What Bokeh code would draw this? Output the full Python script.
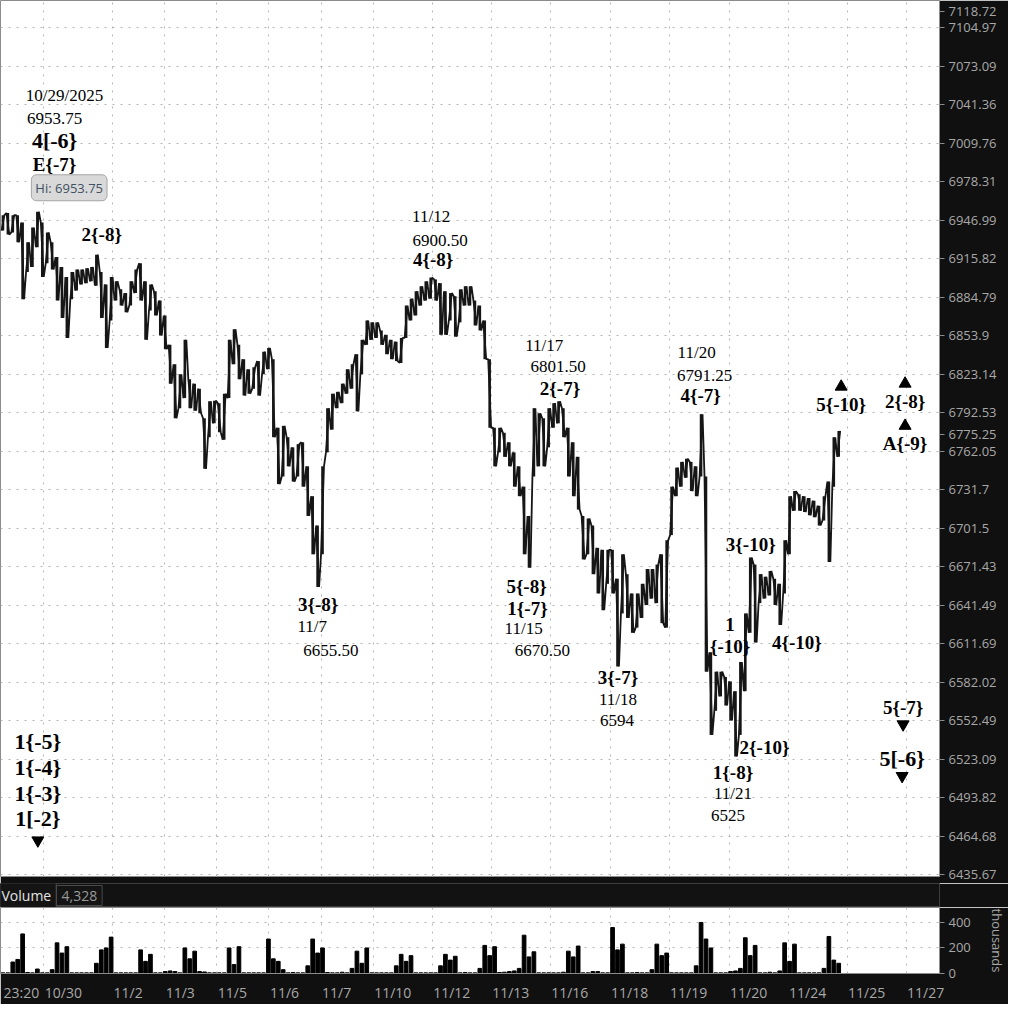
from bokeh.plotting import figure
from bokeh.models import Range1d, FixedTicker, Label, ColumnDataSource
from bokeh.layouts import column
from bokeh.embed import file_html
from bokeh.resources import INLINE
from bokeh.core.properties import value

# ---------------- data ----------------
price_high = [6951, 6952.75, 6951, 6951, 6945, 6929, 6941, 6953.75, 6945, 6937,
 6929, 6917, 6909, 6901, 6905, 6907, 6907, 6908, 6909, 6919,
 6905, 6895, 6901, 6897.5, 6891, 6888, 6897.5, 6907, 6912, 6897.5,
 6895, 6889.5, 6882, 6870, 6846.5, 6831, 6823, 6850.5, 6819, 6815.5,
 6811.5, 6788, 6801.5, 6802, 6800, 6807.5, 6850.5, 6859, 6846.5, 6835,
 6827, 6828.5, 6833.5, 6841, 6844, 6835, 6780.5, 6782, 6773, 6765,
 6767.5, 6769, 6750, 6726.5, 6703.5, 6750, 6796, 6807.5, 6809, 6815.5,
 6827, 6831, 6839, 6850.5, 6866, 6864.5, 6864.5, 6858, 6854.5, 6850.5,
 6849, 6852, 6878, 6883.5, 6889.5, 6893.5, 6897.5, 6900.5, 6899, 6896,
 6889.5, 6888, 6885.5, 6891, 6893.5, 6893.5, 6882, 6878, 6866, 6835,
 6780.5, 6780.5, 6776.5, 6769, 6761, 6750, 6734, 6711, 6796, 6792,
 6788, 6796, 6800, 6801.5, 6796, 6780.5, 6769, 6757.5, 6711, 6709,
 6703.5, 6686, 6684.5, 6684.5, 6684.5, 6662, 6681, 6665.5, 6650.5, 6650.5,
 6658, 6669.5, 6669.5, 6673, 6681, 6692, 6734, 6749, 6753.5, 6756,
 6753.5, 6750, 6791.25, 6742, 6605, 6590, 6590, 6586, 6582.5, 6575,
 6597.5, 6635, 6678.5, 6673, 6665.5, 6663.5, 6668, 6662, 6658, 6692,
 6726.5, 6730.5, 6728, 6726.5, 6725, 6723, 6719, 6726.5, 6738, 6773,
 6778]
price_low = [6938.5, 6935.25, 6937, 6929, 6883, 6905, 6909, 6925, 6901, 6912,
 6907, 6882, 6868, 6852, 6883, 6890, 6895, 6896, 6897.5, 6894,
 6868, 6844, 6866, 6882, 6878, 6872.5, 6878, 6888, 6882, 6850.5,
 6874, 6870, 6854, 6843, 6815.5, 6788, 6796, 6804, 6796, 6794,
 6792, 6748, 6773, 6784, 6777, 6771, 6804, 6831, 6819, 6806,
 6807.5, 6811.5, 6806, 6823, 6827, 6773, 6736, 6742, 6750, 6738,
 6742, 6734, 6711, 6681, 6655.5, 6681, 6761, 6779, 6796, 6800,
 6807.5, 6811.5, 6793.5, 6823, 6846.5, 6850.5, 6852, 6846.5, 6839, 6835,
 6833.5, 6832, 6852, 6866, 6870, 6878, 6882, 6883.5, 6882, 6854.5,
 6854.5, 6866, 6853, 6864.5, 6878, 6878, 6862, 6858, 6835, 6780.5,
 6750, 6761, 6757.5, 6750, 6734, 6726.5, 6681, 6670.5, 6742, 6750,
 6750, 6765, 6780.5, 6784, 6773, 6742, 6726.5, 6716, 6677, 6681,
 6665.5, 6650.5, 6637.5, 6658, 6650.5, 6594, 6635, 6631.5, 6620, 6624,
 6631.5, 6641.5, 6646.5, 6643, 6627.5, 6624, 6696, 6726.5, 6734, 6741,
 6730.5, 6726.5, 6742, 6590, 6541.5, 6560, 6571, 6564, 6552.5, 6525,
 6541.5, 6575, 6620, 6612.5, 6643, 6646.5, 6649, 6641.5, 6626, 6650.5,
 6681, 6715, 6715, 6714, 6711.5, 6710, 6703.5, 6707.5, 6675, 6734,
 6757.5]
volume_k = [5, 5, 90, 110, 310, 8, 5, 35, 5, 5,
 30, 240, 160, 210, 5, 5, 5, 5, 5, 80,
 185, 200, 285, 5, 5, 5, 5, 5, 185, 95,
 150, 5, 5, 15, 20, 15, 5, 200, 115, 175,
 15, 12, 5, 5, 5, 5, 200, 70, 210, 5,
 5, 5, 5, 5, 270, 115, 95, 30, 5, 8,
 5, 5, 60, 270, 160, 200, 8, 5, 5, 10,
 5, 40, 175, 80, 200, 5, 5, 5, 5, 5,
 60, 150, 95, 140, 5, 5, 5, 5, 5, 60,
 150, 105, 135, 5, 8, 5, 5, 40, 220, 140,
 210, 8, 10, 15, 20, 40, 300, 130, 170, 5,
 5, 5, 5, 5, 10, 175, 130, 215, 5, 5,
 15, 15, 5, 5, 360, 185, 230, 5, 5, 8,
 5, 5, 30, 230, 140, 160, 5, 5, 5, 5,
 5, 60, 400, 270, 200, 5, 5, 5, 15, 20,
 40, 280, 140, 220, 5, 5, 10, 5, 20, 240,
 95, 230, 5, 5, 5, 5, 5, 40, 290, 105,
 80]
last_price = 6775.25
top_price = 7118.72
session_high = 6953.75
high_bar = 7
volume_last = "4,328"
time_label = "23:20"

price_ticks = [7104.97, 7073.09, 7041.36, 7009.76, 6978.31, 6946.99, 6915.82, 6884.79,
               6853.9, 6823.14, 6792.53, 6762.05, 6731.7, 6701.5, 6671.43, 6641.49,
               6611.69, 6582.02, 6552.49, 6523.09, 6493.82, 6464.68, 6435.67]
date_ticks = [8.8, 22.8, 33.4, 44.0, 54.6, 65.2, 75.8, 87.8, 99.8, 111.8, 124.0,
              136.0, 148.2, 160.2, 172.2, 184.2]
date_labels = ["10/30", "11/2", "11/3", "11/5", "11/6", "11/7", "11/10", "11/12",
               "11/13", "11/16", "11/18", "11/19", "11/20", "11/24", "11/25", "11/27"]
vol_ticks = [0, 200, 400]

wave_text = ["E{-7}", "2{-8}", "4{-8}", "2{-7}", "4{-7}", "5{-10}", "2{-8}", "A{-9}",
             "3{-8}", "5{-8}", "1{-7}", "3{-7}", "3{-10}", "1", "{-10}", "4{-10}",
             "2{-10}", "1{-8}", "5{-7}"]
wave_x = [11.0, 20.6, 88.0, 113.8, 142.4, 171.0, 184.0, 184.0, 64.6, 107.0, 107.2,
          125.6, 152.6, 148.4, 148.4, 162.0, 155.4, 149.0, 183.6]
wave_y = [6992.5, 6935.3, 6914.8, 6811.6, 6806.1, 6799.1, 6801.5, 6768.2, 6642.1,
          6655.7, 6639.0, 6585.5, 6688.4, 6626.2, 6609.6, 6612.6, 6531.7, 6513.1, 6562.3]

big_text = ["4[-6}", "5[-6}", "1{-5}", "1{-4}", "1{-3}", "1[-2}"]
big_x = [11.0, 183.4, 7.6, 7.6, 7.6, 7.6]
big_y = [7011.6, 6523.5, 6536.2, 6516.8, 6496.8, 6478.3]

note_text = ["10/29/2025", "6953.75", "11/12", "6900.50", "11/17", "6801.50", "11/20",
             "6791.25", "11/7", "6655.50", "11/15", "6670.50", "11/18", "6594",
             "11/21", "6525"]
note_x = [13.0, 11.0, 87.6, 89.4, 110.6, 113.4, 141.6, 143.2, 63.4, 67.2, 106.4,
          110.2, 125.6, 125.4, 149.0, 148.0]
note_y = [7048.5, 7030.1, 6949.6, 6930.6, 6845.8, 6829.4, 6840.3, 6822.4, 6624.7,
          6606.6, 6623.2, 6606.6, 6568.3, 6552.6, 6496.8, 6480.5]

up_x = [171.0, 184.0, 184.0]
up_y = [6813.1, 6815.5, 6782.0]
down_x = [183.6, 183.4, 7.6]
down_y = [6549.6, 6510.2, 6461.4]

# ---------------- styling constants ----------------
DARK = "#101010"
GRID = "#b5b5b5"
AX_TXT = "#a8a8a8"
W = 1008
RB = 68
X_END = 191
PX_PER_BAR = (W - RB) / X_END

xr = Range1d(0, X_END)


def style_right_axis(ax):
    ax.minor_tick_line_color = None
    ax.major_tick_in = 0
    ax.major_tick_out = 5
    ax.major_tick_line_color = "#8c8c8c"
    ax.axis_line_color = "#8c8c8c"
    ax.major_label_text_color = AX_TXT
    ax.major_label_text_font = "Open Sans"
    ax.major_label_text_font_size = "13px"
    ax.major_label_standoff = 4


# ---------------- price panel ----------------
p1 = figure(width=W, height=883, x_range=xr, y_range=Range1d(6434.2, 7127.5),
            y_axis_type="log", y_axis_location="right", x_axis_location=None,
            output_backend="svg", toolbar_location=None,
            min_border_left=0, min_border_top=0, min_border_bottom=7, min_border_right=RB)
p1.border_fill_color = DARK
p1.background_fill_color = "white"
p1.outline_line_color = "#8c8c8c"
axis_ticks = price_ticks + [last_price, top_price]
p1.yaxis.ticker = FixedTicker(ticks=axis_ticks)
p1.yaxis.major_label_overrides = {t: str(t) for t in axis_ticks}
style_right_axis(p1.yaxis)
p1.ygrid.ticker = FixedTicker(ticks=price_ticks)
p1.ygrid.grid_line_color = GRID
p1.ygrid.grid_line_dash = "2 6"
p1.xgrid.ticker = FixedTicker(ticks=date_ticks)
p1.xgrid.grid_line_color = GRID
p1.xgrid.grid_line_dash = "2 6"

# price path drawn from bar highs / lows
bx, by = [], []
prev_mid = None
for i, (h, l) in enumerate(zip(price_high, price_low)):
    mid = (h + l) / 2
    rising = prev_mid is None or mid >= prev_mid
    a, b = (l, h) if rising else (h, l)
    bx += [i + 0.2, i + 0.8]
    by += [a, b]
    prev_mid = mid
bars = ColumnDataSource(dict(x=[i + 0.5 for i in range(len(price_high))], hi=price_high, lo=price_low))
p1.segment(x0="x", y0="lo", x1="x", y1="hi", source=bars, line_color="#161616", line_width=2.6)
p1.line(bx, by, line_color="#161616", line_width=1.8)

serif = value("Liberation Serif")
p1.text(x=wave_x, y=wave_y, text=wave_text, text_font=serif, text_font_style="bold",
        text_font_size="19px", text_align="center", text_baseline="middle", text_color="black")
p1.text(x=big_x, y=big_y, text=big_text, text_font=serif, text_font_style="bold",
        text_font_size="22px", text_align="center", text_baseline="middle", text_color="black")
p1.text(x=note_x, y=note_y, text=note_text, text_font=serif,
        text_font_size="17px", text_align="center", text_baseline="middle", text_color="black")
p1.scatter(up_x, up_y, marker="triangle", size=12, color="black")
p1.scatter(down_x, down_y, marker="inverted_triangle", size=12, color="black")

p1.add_layout(Label(x=high_bar + 0.5, y=session_high, x_offset=-6, y_offset=11,
                    text=f"Hi: {session_high}", text_font="Open Sans", text_font_size="13px",
                    text_color="#3f5063", text_baseline="bottom", text_align="left",
                    background_fill_color="#d9d9d9", border_line_color="#a5a5a5",
                    border_radius=5, padding=4))

# ---------------- volume header strip ----------------
ph = figure(width=W, height=24, x_range=Range1d(0, 1), y_range=Range1d(0, 1),
            x_axis_location=None, y_axis_location=None,
            output_backend="svg", toolbar_location=None,
            min_border_left=0, min_border_top=0, min_border_bottom=0, min_border_right=RB)
ph.border_fill_color = DARK
ph.background_fill_color = "#121212"
ph.outline_line_color = "#3c3c3c"
ph.grid.visible = False
ph.add_layout(Label(x=-4, y=12, x_units="screen", y_units="screen", text="Volume",
                    text_font="Open Sans", text_font_size="14px", text_color="#e4e4e4",
                    text_baseline="middle", text_align="left",
                    background_fill_color="#141414", border_line_color="#4a4a4a",
                    padding=5))
ph.add_layout(Label(x=56, y=12, x_units="screen", y_units="screen", text=volume_last,
                    text_font="Open Sans", text_font_size="14px", text_color="#9a9a9a",
                    text_baseline="middle", text_align="left",
                    background_fill_color="#141414", border_line_color="#4a4a4a",
                    padding=5))

# ---------------- volume panel ----------------
p2 = figure(width=W, height=97, x_range=xr, y_range=Range1d(0, 517),
            y_axis_location="right", x_axis_location="below",
            output_backend="svg", toolbar_location=None,
            min_border_left=0, min_border_top=0, min_border_bottom=24, min_border_right=RB)
p2.border_fill_color = DARK
p2.background_fill_color = "white"
p2.outline_line_color = "#8c8c8c"
p2.yaxis.ticker = FixedTicker(ticks=vol_ticks)
style_right_axis(p2.yaxis)
p2.yaxis.axis_label = "thousands"
p2.yaxis.axis_label_text_color = AX_TXT
p2.yaxis.axis_label_text_font = "Open Sans"
p2.yaxis.axis_label_text_font_style = "normal"
p2.yaxis.axis_label_text_font_size = "13px"
p2.yaxis.axis_label_standoff = 14
p2.ygrid.ticker = FixedTicker(ticks=[200, 400])
p2.ygrid.grid_line_color = GRID
p2.ygrid.grid_line_dash = "2 6"
p2.xgrid.ticker = FixedTicker(ticks=date_ticks)
p2.xgrid.grid_line_color = GRID
p2.xgrid.grid_line_dash = "2 6"


# date labels sit just right of their session gridline (left-aligned look)
def label_width(s):
    return sum(3.8 if c == ":" else 5.2 if c == "/" else 8.0 for c in s)


label_pos = [round(t + (1 + label_width(s) / 2) / PX_PER_BAR, 3) for t, s in zip(date_ticks, date_labels)]
time_pos = round((3 + label_width(time_label) / 2) / PX_PER_BAR, 3)
xa_ticks = [time_pos] + label_pos
xa_labels = [time_label] + date_labels
p2.xaxis.ticker = FixedTicker(ticks=xa_ticks)
p2.xaxis.major_label_overrides = dict(zip(xa_ticks, xa_labels))
p2.xaxis.major_tick_line_color = None
p2.xaxis.minor_tick_line_color = None
p2.xaxis.axis_line_color = "#8c8c8c"
p2.xaxis.major_label_text_color = AX_TXT
p2.xaxis.major_label_text_font = "Open Sans"
p2.xaxis.major_label_text_font_size = "14px"
p2.xaxis.major_label_standoff = 3

p2.vbar(x=[i + 0.5 for i in range(len(volume_k))], top=volume_k, width=0.75,
        color="black")

layout = column(p1, ph, p2, spacing=0)
open("out.html", "w").write(file_html(layout, INLINE))
